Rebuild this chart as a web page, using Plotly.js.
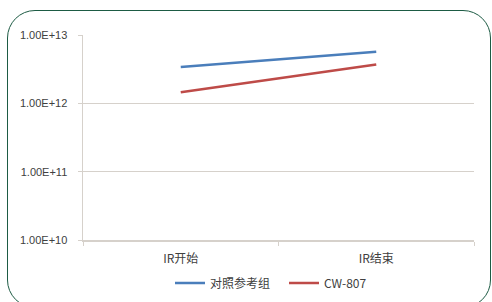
<!DOCTYPE html>
<html>
<head>
<meta charset="utf-8">
<script src="https://cdn.plot.ly/plotly-3.0.1.min.js"></script>
<style>
html,body{margin:0;padding:0;background:#fff;}
#wrap{position:relative;width:492px;height:302px;overflow:hidden;}
#chart{position:absolute;left:0;top:0;width:492px;height:302px;}
#frame{position:absolute;left:7px;top:10px;width:482px;height:296px;border:1.5px solid #1d5b44;border-radius:28px;pointer-events:none;}
</style>
</head>
<body>
<div id="wrap"><div id="chart"></div><div id="frame"></div></div>
<script>
const categories = ["IR开始", "IR结束"];
const seriesNames = ["对照参考组", "CW-807"];
const controlValues = [3.4e12, 5.7e12];
const cw807Values = [1.45e12, 3.7e12];
const yTickVals = [1e10, 1e11, 1e12, 1e13];
const yTickText = ["1.00E+10", "1.00E+11", "1.00E+12", "1.00E+13"];

const traces = [
  {x: categories, y: controlValues, name: seriesNames[0], type: "scatter", mode: "lines",
   line: {color: "#4a7ebb", width: 2.5}},
  {x: categories, y: cw807Values, name: seriesNames[1], type: "scatter", mode: "lines",
   line: {color: "#be4b48", width: 2.5}}
];

const layout = {
  width: 492, height: 302,
  margin: {l: 83, r: 18, t: 35, b: 62},
  paper_bgcolor: "#ffffff", plot_bgcolor: "#ffffff",
  font: {family: "Liberation Sans, Arial, sans-serif", color: "#404040"},
  showlegend: true,
  legend: {orientation: "h", xref: "container", yref: "container",
           x: 170 / 492, xanchor: "left", y: 1 - 283 / 302, yanchor: "middle",
           font: {size: 12, family: "Noto Sans CJK SC, Liberation Sans, sans-serif", color: "#404040"},
           itemwidth: 30, entrywidth: 69, traceorder: "normal"},
  xaxis: {type: "category", range: [-0.5, 1.5], automargin: false, showgrid: false, showline: true,
          linecolor: "#d6d1cb", linewidth: 1.5,
          ticks: "outside", ticklen: 4, tickcolor: "#d6d1cb", tickson: "boundaries", ticklabelstandoff: 7,
          tickfont: {size: 12, family: "Noto Sans CJK SC, Liberation Sans, sans-serif", color: "#404040"},
          fixedrange: true},
  yaxis: {type: "log", range: [10, 13], automargin: false, tickvals: yTickVals, ticktext: yTickText,
          showgrid: true, gridcolor: "#d6d1cb", gridwidth: 1.5, zeroline: false,
          showline: true, linecolor: "#d6d1cb", linewidth: 1.5,
          ticks: "outside", ticklen: 4, tickcolor: "#d6d1cb", ticklabelstandoff: 8,
          tickfont: {size: 11, color: "#404040"}, fixedrange: true}
};

Plotly.newPlot("chart", traces, layout, {displayModeBar: false, staticPlot: true});
</script>
</body>
</html>
